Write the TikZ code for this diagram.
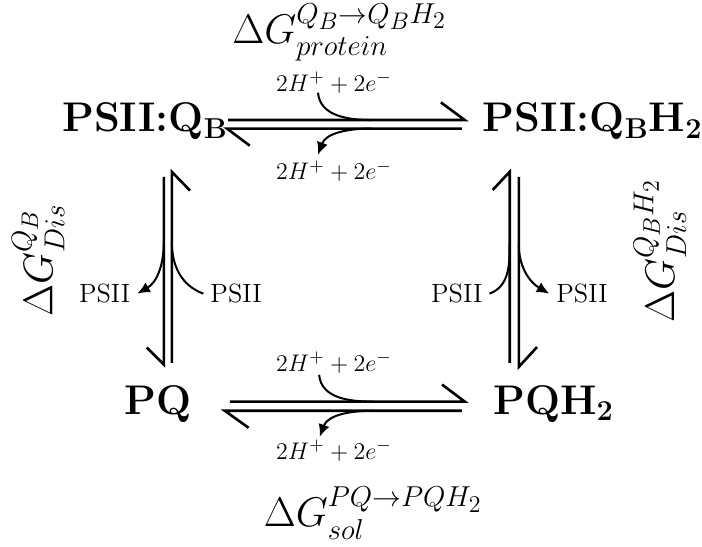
\documentclass[tikz,border=0pt]{standalone}
\usepackage{amsmath}
\usetikzlibrary{arrows.meta}

\begin{document}
\begin{tikzpicture}[
  zst/.style={font=\huge\bfseries, anchor=base},
  dg/.style={font=\huge, anchor=base, inner sep=0.5pt},
  klein/.style={font=\fontsize{13.2}{16}\selectfont, anchor=base},
  gg/.style={line width=1.3pt},
  kv/.style={line width=1pt},
  pf/.style={-{Latex[length=2.2mm, width=2mm]}, line width=1pt}
]
\useasboundingbox (0,0) rectangle (12.34,9.61);

% Zustaende
\node[zst] (qb)  at (2.55,7.29)  {PSII:Q$_{\mathbf{B}}$};
\node[zst] (qbh) at (10.42,7.29) {PSII:Q$_{\mathbf{B}}$H$_{\mathbf{2}}$};
\node[zst] (pq)  at (2.78,2.32)  {PQ};
\node[zst] (pqh) at (9.73,2.32)  {PQH$_{\mathbf{2}}$};

% Freie Enthalpien
\node[dg] (dgp) at (5.97,8.84) {$\Delta G^{Q_B\rightarrow Q_BH_2}_{protein}$};
\node[dg] (dgs) at (6.56,0.35) {$\Delta G^{PQ\rightarrow PQH_2}_{sol}$};
\node[dg, rotate=90, anchor=center] (dgq)  at (0.67,5.03)  {$\Delta G^{Q_B}_{Dis}$};
\node[dg, rotate=90, anchor=center] (dgqh) at (11.60,5.20) {$\Delta G^{Q_BH_2}_{Dis}$};

% Protonen und Elektronen
\node[klein] (h1) at (5.87,8.00) {$2H^+ + 2e^-$};
\node[klein] (h2) at (5.87,6.45) {$2H^+ + 2e^-$};
\node[klein] (h3) at (5.87,3.08) {$2H^+ + 2e^-$};
\node[klein] (h4) at (5.87,1.53) {$2H^+ + 2e^-$};

\node[klein] (p1) at (1.84,4.29)  {PSII};
\node[klein] (p2) at (4.15,4.29)  {PSII};
\node[klein] (p3) at (8.03,4.29)  {PSII};
\node[klein] (p4) at (10.23,4.29) {PSII};

% Gleichgewicht oben
\coordinate (o1) at (4.01,7.50); \coordinate (o2) at (8.17,7.50);
\coordinate (u1) at (3.99,7.35); \coordinate (u2) at (8.12,7.35);
\coordinate (k1) at (5.59,7.98); \coordinate (k2) at (6.54,7.50);
\coordinate (k3) at (6.54,7.35); \coordinate (k4) at (5.59,6.89);
\draw[gg] (o1) -- (o2) -- ++(-0.42,0.31);
\draw[gg] (u2) -- (u1) -- ++(0.40,-0.30);
\draw[kv] (k1) to[out=-85,in=180] (k2);
\draw[pf] (k3) to[out=180,in=70] (k4);

% Gleichgewicht unten
\coordinate (o3) at (4.04,2.55); \coordinate (o4) at (8.17,2.55);
\coordinate (u3) at (3.95,2.39); \coordinate (u4) at (8.12,2.39);
\coordinate (k5) at (5.61,3.02); \coordinate (k6) at (6.56,2.55);
\coordinate (k7) at (6.56,2.39); \coordinate (k8) at (5.62,1.93);
\draw[gg] (o3) -- (o4) -- ++(-0.40,0.30);
\draw[gg] (u4) -- (u3) -- ++(0.42,-0.30);
\draw[kv] (k5) to[out=-85,in=180] (k6);
\draw[pf] (k7) to[out=180,in=70] (k8);

% Gleichgewicht links
\coordinate (l1) at (2.88,6.50); \coordinate (l2) at (2.88,3.20);
\coordinate (r1) at (3.02,3.23); \coordinate (r2) at (3.02,6.59);
\draw[gg] (l1) -- (l2) -- ++(-0.30,0.30);
\draw[gg] (r1) -- (r2) -- ++(0.32,-0.33);
\draw[pf] (2.88,5.36) to[out=-90,in=30] (p1.east);
\draw[kv] (3.02,5.36) to[out=-90,in=160] (p2.west);

% Gleichgewicht rechts
\coordinate (l3) at (8.96,3.23); \coordinate (l4) at (8.96,6.59);
\coordinate (r3) at (9.12,6.50); \coordinate (r4) at (9.12,3.16);
\draw[gg] (l3) -- (l4) -- ++(-0.30,-0.32);
\draw[gg] (r3) -- (r4) -- ++(0.32,0.35);
\draw[kv] (8.96,5.31) to[out=-90,in=20] (p3.east);
\draw[pf] (9.12,5.31) to[out=-90,in=150] (p4.west);

\end{tikzpicture}
\end{document}
